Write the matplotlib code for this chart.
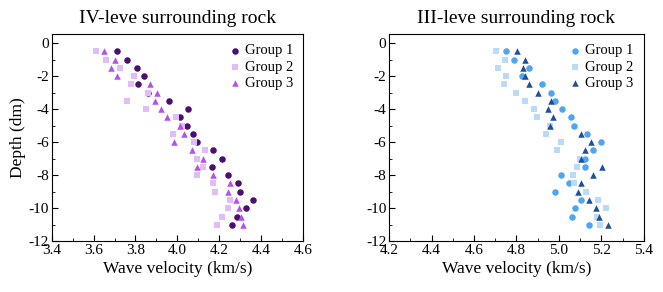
import matplotlib
matplotlib.use("Agg")
import matplotlib.pyplot as plt
from matplotlib.ticker import MultipleLocator

plt.rcParams["font.family"] = ["Liberation Serif", "DejaVu Serif"]
plt.rcParams["axes.unicode_minus"] = False

# depth values shared by every series
depth = [-0.5, -1.0, -1.5, -2.0, -2.5, -3.0, -3.5, -4.0, -4.5, -5.0, -5.5,
         -6.0, -6.5, -7.0, -7.5, -8.0, -8.5, -9.0, -9.5, -10.0, -10.5, -11.0]

# IV-level rock
iv_g1 = [3.712, 3.761, 3.806, 3.842, 3.810, 3.861, 3.960, 4.051, 4.012, 4.045, 4.075,
         4.093, 4.171, 4.210, 4.163, 4.240, 4.287, 4.299, 4.361, 4.326, 4.285, 4.261]
iv_g2 = [3.610, 3.660, 3.726, 3.791, 3.779, 3.861, 3.761, 3.852, 3.994, 4.023, 3.980,
         4.080, 4.131, 4.091, 4.121, 4.091, 4.171, 4.180, 4.250, 4.240, 4.210, 4.190]
iv_g3 = [3.650, 3.701, 3.682, 3.712, 3.869, 3.901, 3.891, 3.920, 3.951, 4.010, 4.031,
         3.982, 4.070, 4.121, 4.091, 4.171, 4.250, 4.240, 4.280, 4.291, 4.302, 4.314]

# III-level rock
iii_g1 = [4.750, 4.790, 4.861, 4.826, 4.920, 4.961, 4.982, 5.016, 5.056, 5.071, 5.131,
          5.200, 5.162, 5.123, 5.123, 5.011, 5.049, 4.982, 5.106, 5.076, 5.062, 5.142]
iii_g2 = [4.702, 4.746, 4.711, 4.752, 4.741, 4.796, 4.840, 4.883, 4.895, 4.960, 4.938,
          5.011, 4.991, 5.100, 5.085, 5.065, 5.071, 5.128, 5.186, 5.222, 5.178, 5.192]
iii_g3 = [4.801, 4.840, 4.829, 4.840, 4.857, 4.901, 4.961, 4.950, 4.971, 4.960, 5.104,
          5.151, 5.122, 5.102, 5.204, 5.161, 5.102, 5.090, 5.142, 5.177, 5.191, 5.232]

labels = ["Group 1", "Group 2", "Group 3"]
markers = ["o", "s", "^"]

panels = [
    ("IV-leve surrounding rock", [iv_g1, iv_g2, iv_g3],
     ["#4a0f70", "#e2bcf6", "#b550ec"], (3.4, 4.6)),
    ("III-leve surrounding rock", [iii_g1, iii_g2, iii_g3],
     ["#4ea6f2", "#b9dbf8", "#1e4f9e"], (4.2, 5.4)),
]

fig = plt.figure(figsize=(6.63, 2.92), dpi=100)
boxes = [[0.0777, 0.1736, 0.380, 0.710], [0.587, 0.1736, 0.384, 0.710]]

for i, (title, series, colors, xlim) in enumerate(panels):
    ax = fig.add_axes(boxes[i])
    for vals, c, m, lab in zip(series, colors, markers, labels):
        ax.scatter(vals, depth, s=22, marker=m, color=c, label=lab,
                   linewidths=0, zorder=3)
    ax.set_xlim(*xlim)
    ax.set_ylim(-12, 0.55)
    ax.xaxis.set_major_locator(MultipleLocator(0.2))
    ax.xaxis.set_minor_locator(MultipleLocator(0.1))
    ax.yaxis.set_major_locator(MultipleLocator(2))
    ax.yaxis.set_minor_locator(MultipleLocator(1))
    ax.xaxis.set_major_formatter(matplotlib.ticker.FormatStrFormatter("%.1f"))
    ax.tick_params(which="both", direction="in", labelsize=11, pad=2)
    ax.tick_params(which="major", length=4)
    ax.tick_params(which="minor", length=2)
    ax.set_title(title, fontsize=14, pad=8)
    ax.set_xlabel("Wave velocity (km/s)", fontsize=12.5, labelpad=3)
    if i == 0:
        ax.set_ylabel("Depth (dm)", fontsize=12.5, labelpad=2)
    ax.legend(loc="upper right", frameon=False, fontsize=10.5,
              handletextpad=0.1, borderaxespad=0.3, labelspacing=0.2,
              handlelength=1.2)

fig.savefig("out.png", dpi=100)
